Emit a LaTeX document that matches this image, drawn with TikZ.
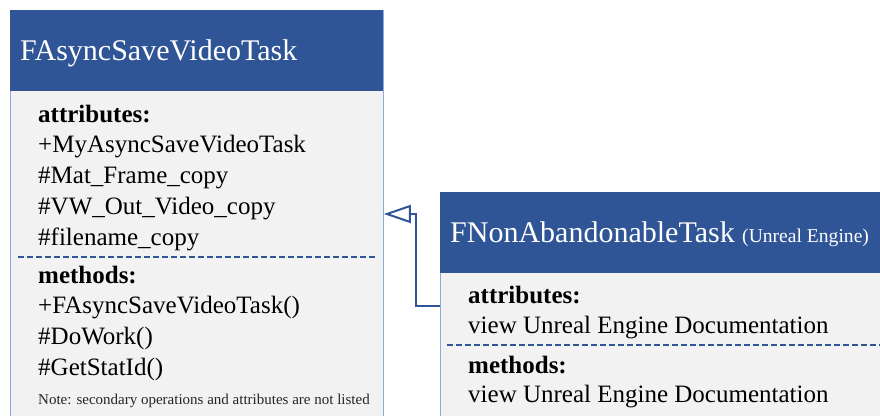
\documentclass[tikz,border=0pt]{standalone}
\usepackage{fontspec}
\setmainfont{Liberation Serif}
\usetikzlibrary{arrows.meta, positioning}
\definecolor{headblue}{HTML}{2F5597}
\definecolor{bodygray}{HTML}{F2F2F2}
\definecolor{edgeblue}{HTML}{8FAADC}

\begin{document}
\begin{tikzpicture}[x=1pt, y=-1pt,
    classbody/.style={draw=edgeblue, line width=0.8pt, fill=bodygray, anchor=north west, inner sep=0pt},
    classhead/.style={fill=headblue, anchor=north west, inner sep=0pt},
    headtext/.style={text=white, anchor=base west, inner sep=0pt, font=\fontsize{30}{36}\selectfont},
    bodytext/.style={anchor=base west, inner sep=0pt, font=\fontsize{25}{30}\selectfont},
    secttext/.style={bodytext, font=\fontsize{25}{30}\selectfont\bfseries},
    notetext/.style={anchor=base west, inner sep=0pt, text=black!85, font=\fontsize{15}{18}\selectfont},
    sepline/.style={headblue, line width=1.4pt, dash pattern=on 6pt off 3pt},
    inherit/.style={headblue, line width=2pt, -{Triangle[open, length=27pt, width=18pt]}}]

    \useasboundingbox (0,0) rectangle (880,415);
    \clip (0,0) rectangle (880,415);

    % FAsyncSaveVideoTask
    \node[classbody, minimum width=373pt, minimum height=440pt] (saveTask) at (10,10) {};
    \node[classhead, minimum width=373pt, minimum height=81pt] (saveHead) at (saveTask.north west) {};
    \node[headtext] (saveTitle) at (20,60) {FAsyncSaveVideoTask};

    \node[secttext] (saveAttr) at (38,122) {attributes:};
    \foreach \txt [count=\i] in {+MyAsyncSaveVideoTask, \#Mat\_Frame\_copy, \#VW\_Out\_Video\_copy, \#filename\_copy}
        \node[bodytext] (saveAttr\i) at (38,{122+30.75*\i}) {\txt};
    \draw[sepline] (18,257) -- (375,257);
    \node[secttext] (saveMeth) at (38,283) {methods:};
    \foreach \txt [count=\i] in {+FAsyncSaveVideoTask(), \#DoWork(), \#GetStatId()}
        \node[bodytext] (saveMeth\i) at (38,{283+30.7*\i}) {\txt};
    \node[notetext] (saveNote) at (38,404) {Note: secondary operations and attributes are not listed};

    % FNonAbandonableTask
    \node[classbody, minimum width=460pt, minimum height=260pt] (nonTask) at (440,192) {};
    \node[classhead, minimum width=460pt, minimum height=81pt] (nonHead) at (nonTask.north west) {};
    \node[headtext] (nonTitle) at (450,242) {FNonAbandonableTask {\fontsize{19.6}{22}\selectfont (Unreal Engine)}};

    \node[secttext] (nonAttr) at (468,303) {attributes:};
    \node[bodytext] (nonAttr1) at (468,333) {view Unreal Engine Documentation};
    \draw[sepline] (447,345) -- (880,345);
    \node[secttext] (nonMeth) at (468,373) {methods:};
    \node[bodytext] (nonMeth1) at (468,402) {view Unreal Engine Documentation};

    % inheritance
    \draw[inherit] ([yshift=-114pt]nonTask.north west) -| ([xshift=32pt, yshift=-204pt]saveTask.north east)
        -- ([yshift=-204pt]saveTask.north east);

\end{tikzpicture}
\end{document}
